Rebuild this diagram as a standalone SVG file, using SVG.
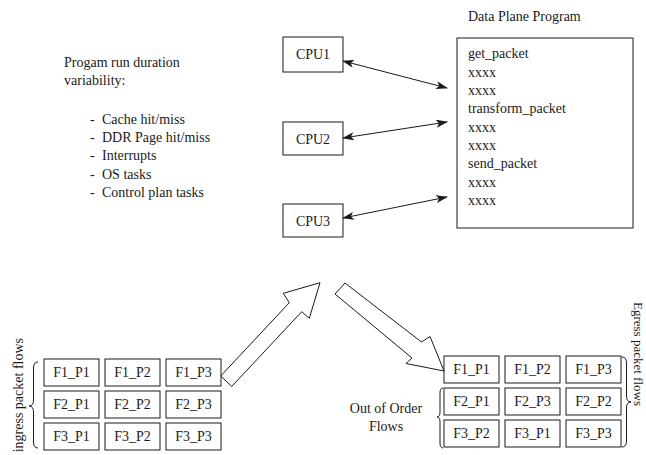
<svg xmlns="http://www.w3.org/2000/svg" width="646" height="455" viewBox="0 0 646 455">
<defs>
<style>
text{font-family:"Liberation Serif","Times New Roman",serif;font-size:14px;fill:#1a1a1a}
.box{fill:#fff;stroke:#1a1a1a;stroke-width:1}
.c{text-anchor:middle}
.conn{stroke:#1a1a1a;stroke-width:1;fill:none}
.blk{fill:#fff;stroke:#1a1a1a;stroke-width:1;stroke-linejoin:miter}
.brace{fill:none;stroke:#1a1a1a;stroke-width:1}
</style>
<marker id="ah" viewBox="0 0 12 8" refX="11" refY="4" markerWidth="12" markerHeight="8" markerUnits="userSpaceOnUse" orient="auto-start-reverse">
<path d="M0,0 L12,4 L0,8 L3,4 z" fill="#1a1a1a"/>
</marker>
</defs>
<rect width="646" height="455" fill="#fff"/>

<g id="variability-note">
<text x="64" y="67">Progam run duration</text>
<text x="64" y="85">variability:</text>
<text x="90" y="124">-</text><text x="102" y="124">Cache hit/miss</text>
<text x="90" y="142">-</text><text x="102" y="142">DDR Page hit/miss</text>
<text x="90" y="160">-</text><text x="102" y="160">Interrupts</text>
<text x="90" y="179">-</text><text x="102" y="179">OS tasks</text>
<text x="90" y="197">-</text><text x="102" y="197">Control plan tasks</text>
</g>

<g id="cpu1"><rect class="box" x="283" y="37" width="60" height="35"/><text class="c" x="313" y="59">CPU1</text></g>
<g id="cpu2"><rect class="box" x="283" y="122" width="60" height="33"/><text class="c" x="313" y="144">CPU2</text></g>
<g id="cpu3"><rect class="box" x="283" y="204" width="60" height="33"/><text class="c" x="313" y="226">CPU3</text></g>

<g id="data-plane-program">
<text x="468" y="21">Data Plane Program</text>
<rect class="box" x="457" y="38" width="176" height="190"/>
<text x="468" y="58">get_packet</text>
<text x="468" y="77">xxxx</text>
<text x="468" y="95">xxxx</text>
<text x="468" y="113">transform_packet</text>
<text x="468" y="132">xxxx</text>
<text x="468" y="150">xxxx</text>
<text x="468" y="168">send_packet</text>
<text x="468" y="187">xxxx</text>
<text x="468" y="205">xxxx</text>
</g>

<g id="ingress-flows">
<text transform="translate(23,338) rotate(-90)" text-anchor="end">ingress packet flows</text>
<path class="brace" d="M38,362 Q33.5,362 33.5,368 L33.5,400 Q33.5,406 29,406 Q33.5,406 33.5,412 L33.5,442 Q33.5,448 38,448"/>
<g id="in-f1p1"><rect class="box" x="44" y="359" width="55" height="27"/><text class="c" x="71.5" y="377">F1_P1</text></g>
<g id="in-f1p2"><rect class="box" x="105" y="359" width="55" height="27"/><text class="c" x="132.5" y="377">F1_P2</text></g>
<g id="in-f1p3"><rect class="box" x="166" y="359" width="55" height="27"/><text class="c" x="193.5" y="377">F1_P3</text></g>
<g id="in-f2p1"><rect class="box" x="44" y="391" width="55" height="27"/><text class="c" x="71.5" y="409">F2_P1</text></g>
<g id="in-f2p2"><rect class="box" x="105" y="391" width="55" height="27"/><text class="c" x="132.5" y="409">F2_P2</text></g>
<g id="in-f2p3"><rect class="box" x="166" y="391" width="55" height="27"/><text class="c" x="193.5" y="409">F2_P3</text></g>
<g id="in-f3p1"><rect class="box" x="44" y="423" width="55" height="27"/><text class="c" x="71.5" y="441">F3_P1</text></g>
<g id="in-f3p2"><rect class="box" x="105" y="423" width="55" height="27"/><text class="c" x="132.5" y="441">F3_P2</text></g>
<g id="in-f3p3"><rect class="box" x="166" y="423" width="55" height="27"/><text class="c" x="193.5" y="441">F3_P3</text></g>
</g>

<g id="egress-flows">
<text transform="translate(634,302) rotate(90)" style="font-size:13px">Egress packet flows</text>
<path class="brace" d="M622,357 Q626.5,357 626.5,363 L626.5,396 Q626.5,402 631,402 Q626.5,402 626.5,408 L626.5,441 Q626.5,447 622,447"/>
<text class="c" x="386" y="413">Out of Order</text>
<text class="c" x="386" y="431">Flows</text>
<path class="brace" d="M443,388 Q440,388 440,393 L440,412 Q440,417 437,417 Q440,417 440,422 L440,443 Q440,448 443,448"/>
<g id="out-f1p1"><rect class="box" x="444" y="356" width="55" height="27"/><text class="c" x="471.5" y="374">F1_P1</text></g>
<g id="out-f1p2"><rect class="box" x="505" y="356" width="55" height="27"/><text class="c" x="532.5" y="374">F1_P2</text></g>
<g id="out-f1p3"><rect class="box" x="566" y="356" width="55" height="27"/><text class="c" x="593.5" y="374">F1_P3</text></g>
<g id="out-f2p1"><rect class="box" x="444" y="388" width="55" height="27"/><text class="c" x="471.5" y="406">F2_P1</text></g>
<g id="out-f2p3"><rect class="box" x="505" y="388" width="55" height="27"/><text class="c" x="532.5" y="406">F2_P3</text></g>
<g id="out-f2p2"><rect class="box" x="566" y="388" width="55" height="27"/><text class="c" x="593.5" y="406">F2_P2</text></g>
<g id="out-f3p2"><rect class="box" x="444" y="420" width="55" height="27"/><text class="c" x="471.5" y="438">F3_P2</text></g>
<g id="out-f3p1"><rect class="box" x="505" y="420" width="55" height="27"/><text class="c" x="532.5" y="438">F3_P1</text></g>
<g id="out-f3p3"><rect class="box" x="566" y="420" width="55" height="27"/><text class="c" x="593.5" y="438">F3_P3</text></g>
</g>

<g id="connectors">
<line class="conn" x1="343" y1="61" x2="447" y2="88" marker-start="url(#ah)" marker-end="url(#ah)"/>
<line class="conn" x1="343" y1="138" x2="447" y2="122" marker-start="url(#ah)" marker-end="url(#ah)"/>
<line class="conn" x1="343" y1="218" x2="447" y2="197" marker-start="url(#ah)" marker-end="url(#ah)"/>
<polygon class="blk" points="220.7,376 289.3,302.7 283.3,293.3 320,282.7 309.3,318.3 301.7,311.7 231.8,386.4"/>
<polygon class="blk" points="345,283 421.5,342 430,336.5 444,371 406,363.5 412,358 335,294"/>
</g>
</svg>
